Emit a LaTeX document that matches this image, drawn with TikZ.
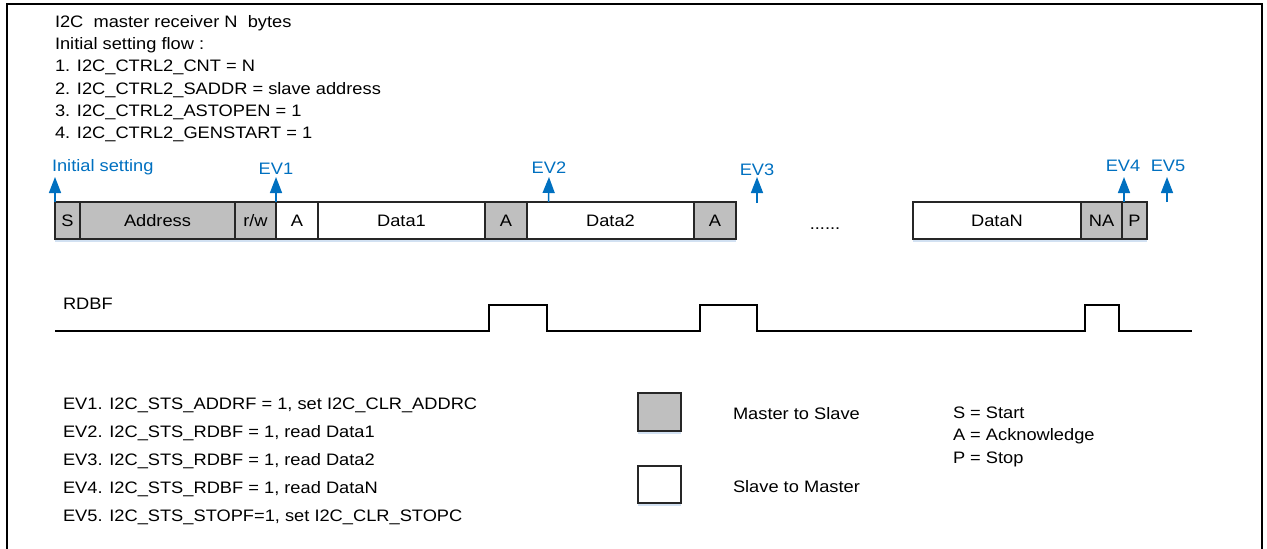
\documentclass[tikz,border=0pt]{standalone}
\usepackage{fontspec}
\setmainfont{Liberation Sans}[FakeStretch=1.1]
\usetikzlibrary{arrows.meta,shadows}
\definecolor{evblue}{RGB}{0,112,192}
\definecolor{boxgray}{RGB}{191,191,191}
\definecolor{shadowblue}{RGB}{210,225,242}
\begin{document}
\begin{tikzpicture}[x=1pt,y=-1pt,
  every node/.style={font=\fontsize{16.6}{22}\selectfont, inner sep=0pt, outer sep=0pt},
  txt/.style={anchor=base west},
  evlab/.style={anchor=base, text=evblue},
  cell/.style={draw=black!85, line width=1.2pt, minimum height=37pt, text height=11.4pt, text depth=0pt,
    drop shadow={shadow xshift=0pt, shadow yshift=-2.5pt, fill=shadowblue, opacity=1}},
  mcell/.style={cell, fill=boxgray},
  scell/.style={cell, fill=white},
  evarrow/.style={draw=evblue, line width=1.5pt, -{Triangle[length=16pt,width=12pt]}},
  wave/.style={line width=1.6pt, line join=miter},
]
\useasboundingbox (0,0) rectangle (1267,549);
% frame
\draw[line width=2pt] (7,549) -- (7,4) -- (1262,4) -- (1262,549);

% header text
\node[txt] (h1) at (55,27) {I2C\ \ master receiver N\ \ bytes};
\node[txt] (h2) at (55,49) {Initial setting flow :};
\node[txt] (h3) at (55,71.5) {1. I2C\_CTRL2\_CNT = N};
\node[txt] (h4) at (55,94) {2. I2C\_CTRL2\_SADDR = slave address};
\node[txt] (h5) at (55,116) {3. I2C\_CTRL2\_ASTOPEN = 1};
\node[txt] (h6) at (55,138) {4. I2C\_CTRL2\_GENSTART = 1};

% frame cells
\node[mcell, minimum width=25pt]  (bS)    at (67.5,220.5)  {S};
\node[mcell, minimum width=155pt] (bAddr) at (157.5,220.5) {Address};
\node[mcell, minimum width=41pt]  (bRW)   at (255.5,220.5) {r/w};
\node[scell, minimum width=42pt]  (bA1)   at (297,220.5)   {A};
\node[scell, minimum width=167pt] (bD1)   at (401.5,220.5) {Data1};
\node[mcell, minimum width=42pt]  (bA2)   at (506,220.5)   {A};
\node[scell, minimum width=167pt] (bD2)   at (610.5,220.5) {Data2};
\node[mcell, minimum width=42pt]  (bA3)   at (715,220.5)   {A};
\node[anchor=base] (dots) at (825,229) {......};
\node[scell, minimum width=168pt] (bDN)   at (997,220.5)   {DataN};
\node[mcell, minimum width=41pt]  (bNA)   at (1101.5,220.5){NA};
\node[mcell, minimum width=25pt]  (bP)    at (1134.5,220.5){P};

% event labels
\node[evlab, anchor=base west] (lInit) at (52,171) {Initial setting};
\node[evlab] (lEV1) at (276,174) {EV1};
\node[evlab] (lEV2) at (549,173) {EV2};
\node[evlab] (lEV3) at (757,175) {EV3};
\node[evlab] (lEV4) at (1123,171) {EV4};
\node[evlab] (lEV5) at (1168,171) {EV5};

\coordinate (tInit) at (55,177);
\coordinate (tEV1) at (276,177);
\coordinate (tEV2) at (549,177);
\coordinate (bEV3) at (757,203);
\coordinate (tEV3) at (757,177);
\coordinate (tEV4) at (1124,177);
\coordinate (bEV5) at (1167,202);
\coordinate (tEV5) at (1167,177);

\draw[evarrow] (bS.north west) -- (tInit);
\draw[evarrow] (bRW.north east) -- (tEV1);
\draw[evarrow] ([xshift=21.5pt]bD2.north west) -- (tEV2);
\draw[evarrow] (bEV3) -- (tEV3);
\draw[evarrow] ([xshift=2pt]bP.north west) -- (tEV4);
\draw[evarrow] (bEV5) -- (tEV5);

% RDBF waveform
\node[txt] (rdbf) at (63,309) {RDBF};
\draw[wave] (55,331) -- (489,331) -- (489,305) -- (547,305) -- (547,331)
  -- (700,331) -- (700,305) -- (757,305) -- (757,331)
  -- (1085,331) -- (1085,305) -- (1119,305) -- (1119,331) -- (1192,331);

% event list
\node[txt] (e1) at (63,409) {EV1. I2C\_STS\_ADDRF = 1, set I2C\_CLR\_ADDRC};
\node[txt] (e2) at (63,437) {EV2. I2C\_STS\_RDBF = 1, read Data1};
\node[txt] (e3) at (63,465) {EV3. I2C\_STS\_RDBF = 1, read Data2};
\node[txt] (e4) at (63,493) {EV4. I2C\_STS\_RDBF = 1, read DataN};
\node[txt] (e5) at (63,521) {EV5. I2C\_STS\_STOPF=1, set I2C\_CLR\_STOPC};

% legend
\node[mcell, minimum width=43pt, minimum height=38pt] (legM) at (659.5,412) {};
\node[scell, minimum width=43pt, minimum height=37pt] (legS) at (659.5,484.5) {};
\node[txt] (legMt) at (733,419) {Master to Slave};
\node[txt] (legSt) at (733,492) {Slave to Master};
\node[txt] (k1) at (953,418) {S = Start};
\node[txt] (k2) at (953,440.5) {A = Acknowledge};
\node[txt] (k3) at (953,463) {P = Stop};
\end{tikzpicture}
\end{document}
